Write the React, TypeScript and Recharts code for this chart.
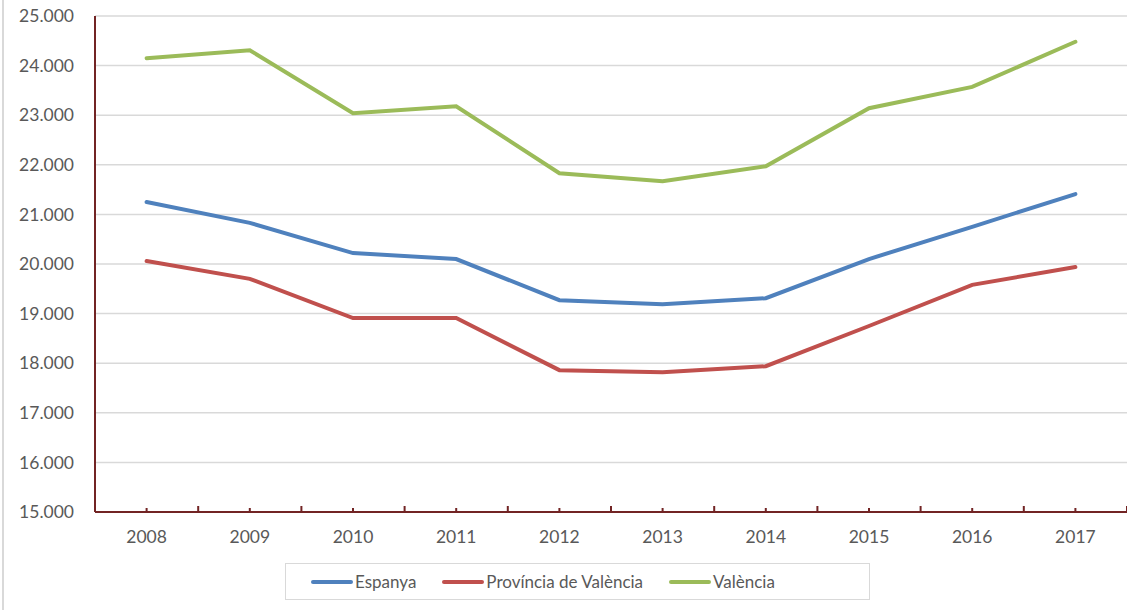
import React from "react";
import { LineChart, Line, XAxis, YAxis, CartesianGrid } from "recharts";

const years = [2008, 2009, 2010, 2011, 2012, 2013, 2014, 2015, 2016, 2017];
const espanya = [21250, 20830, 20220, 20100, 19270, 19190, 19310, 20100, 20750, 21410];
const provincia = [20060, 19700, 18910, 18910, 17860, 17820, 17940, 18750, 19580, 19940];
const valencia = [24150, 24310, 23040, 23180, 21830, 21670, 21970, 23140, 23570, 24480];
const yTicks = [15000, 16000, 17000, 18000, 19000, 20000, 21000, 22000, 23000, 24000, 25000];
const seriesNames = ["Espanya", "Província de València", "València"];
const seriesColors = ["#4F81BD", "#C0504D", "#9BBB59"];

const data = years.map((y, i) => ({
  year: y,
  espanya: espanya[i],
  provincia: provincia[i],
  valencia: valencia[i],
}));

const xTicks: number[] = [];
years.forEach((y, i) => {
  xTicks.push(y - 0.5);
  xTicks.push(y);
  if (i === years.length - 1) xTicks.push(y + 0.5);
});

const AXIS = "#722424";
const FONT = "Lato, 'Noto Sans', sans-serif";

const fmt = (v: number) => String(v).replace(/\B(?=(\d{3})+(?!\d))/g, ".");

const XTick = (props: any) => {
  const { x, y, payload } = props;
  const v = payload.value as number;
  const isYear = Number.isInteger(v);
  return (
    <g>
      <line x1={x} x2={x} y1={y} y2={y - (isYear ? 4 : 6)} stroke={AXIS} strokeWidth={2} />
      {isYear && (
        <text x={x} y={y + 31} textAnchor="middle" fill="#595959" fontSize={17.5} fontFamily={FONT}>
          {v}
        </text>
      )}
    </g>
  );
};

const LegendBox = () => (
  <div
    style={{
      position: "absolute",
      left: 285,
      top: 563,
      width: 585,
      height: 37,
      border: "1.5px solid #d9d9d9",
      boxSizing: "border-box",
      display: "flex",
      alignItems: "center",
      fontFamily: FONT,
      fontSize: 17,
      color: "#595959",
      paddingLeft: 25,
    }}
  >
    {seriesNames.map((n, i) => (
      <div key={n} style={{ display: "flex", alignItems: "center", marginRight: 26 }}>
        <svg width={42} height={6} style={{ marginRight: 2 }}>
          <line x1={2} x2={40} y1={3} y2={3} stroke={seriesColors[i]} strokeWidth={4} strokeLinecap="round" />
        </svg>
        <span>{n}</span>
      </div>
    ))}
  </div>
);

export default function App() {
  return (
    <div style={{ position: "absolute", left: 0, top: 0, width: 1127, height: 610, background: "#fff" }}>
      <div style={{ position: "absolute", left: 2, top: 0, width: 2, height: 610, background: "#d9d9d9" }} />
      <LineChart
        width={1127}
        height={610}
        data={data}
        margin={{ top: 16, right: 0, left: 0, bottom: 58 }}
        style={{ fontFamily: FONT }}
      >
        <CartesianGrid vertical={false} stroke="#d9d9d9" strokeWidth={1.5} />
        <XAxis
          dataKey="year"
          type="number"
          domain={[2007.5, 2017.5]}
          ticks={xTicks}
          interval={0}
          tickLine={false}
          tickSize={0}
          tickMargin={0}
          axisLine={{ stroke: AXIS, strokeWidth: 2 }}
          tick={<XTick />}
          height={40}
        />
        <YAxis
          domain={[15000, 25000]}
          ticks={yTicks}
          interval={0}
          width={95}
          tickLine={false}
          tickSize={0}
          tickMargin={21}
          axisLine={{ stroke: AXIS, strokeWidth: 2 }}
          tickFormatter={fmt}
          tick={{ fill: "#595959", fontSize: 17.5, fontFamily: FONT }}
        />
        <Line dataKey="espanya" name={seriesNames[0]} stroke={seriesColors[0]} strokeWidth={4} dot={false} strokeLinecap="round" isAnimationActive={false} />
        <Line dataKey="provincia" name={seriesNames[1]} stroke={seriesColors[1]} strokeWidth={4} dot={false} strokeLinecap="round" isAnimationActive={false} />
        <Line dataKey="valencia" name={seriesNames[2]} stroke={seriesColors[2]} strokeWidth={4} dot={false} strokeLinecap="round" isAnimationActive={false} />
      </LineChart>
      <LegendBox />
    </div>
  );
}
